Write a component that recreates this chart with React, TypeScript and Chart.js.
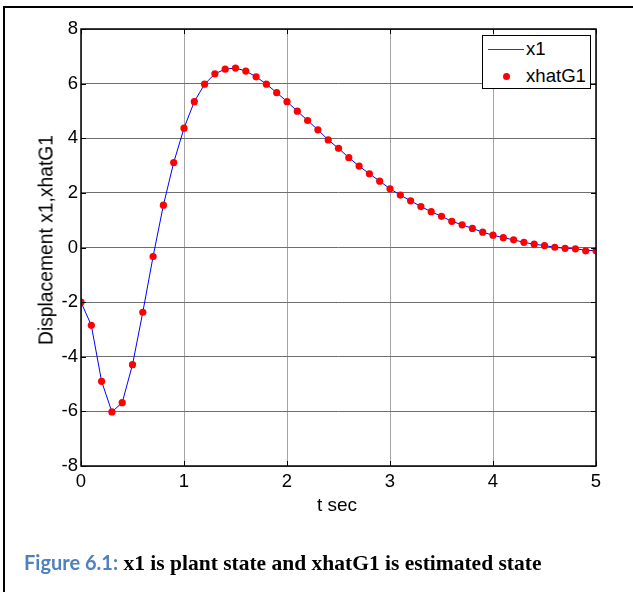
import React, { useEffect, useRef } from 'react';
import { Chart, registerables } from 'chart.js';

Chart.register(...registerables);

const tValues = [
  0, 0.1, 0.2, 0.3, 0.4, 0.5, 0.6, 0.7, 0.8, 0.9,
  1.0, 1.1, 1.2, 1.3, 1.4, 1.5, 1.6, 1.7, 1.8, 1.9,
  2.0, 2.1, 2.2, 2.3, 2.4, 2.5, 2.6, 2.7, 2.8, 2.9,
  3.0, 3.1, 3.2, 3.3, 3.4, 3.5, 3.6, 3.7, 3.8, 3.9,
  4.0, 4.1, 4.2, 4.3, 4.4, 4.5, 4.6, 4.7, 4.8, 4.9,
  5.0,
];

const x1Values = [
  -2.0, -2.85, -4.9, -6.02, -5.68, -4.29, -2.37, -0.33, 1.55, 3.11,
  4.37, 5.34, 5.98, 6.36, 6.53, 6.57, 6.46, 6.25, 5.98, 5.67,
  5.34, 4.99, 4.65, 4.31, 3.94, 3.63, 3.29, 2.98, 2.7, 2.43,
  2.15, 1.92, 1.71, 1.5, 1.31, 1.14, 0.96, 0.83, 0.7, 0.56,
  0.45, 0.36, 0.28, 0.19, 0.12, 0.07, 0.01, -0.03, -0.05, -0.1,
  -0.12,
];

const xhatG1Values = [
  -2.0, -2.85, -4.9, -6.02, -5.68, -4.29, -2.37, -0.33, 1.55, 3.11,
  4.37, 5.34, 5.98, 6.36, 6.53, 6.57, 6.46, 6.25, 5.98, 5.67,
  5.34, 4.99, 4.65, 4.31, 3.94, 3.63, 3.29, 2.98, 2.7, 2.43,
  2.15, 1.92, 1.71, 1.5, 1.31, 1.14, 0.96, 0.83, 0.7, 0.56,
  0.45, 0.36, 0.28, 0.19, 0.12, 0.07, 0.01, -0.03, -0.05, -0.12,
  -0.12,
];

const xTicks = [0, 1, 2, 3, 4, 5];
const yTicks = [-8, -6, -4, -2, 0, 2, 4, 6, 8];

const seriesNames = ['x1', 'xhatG1'];
const xTitle = 't sec';
const yTitle = 'Displacement x1,xhatG1';
const captionLabel = 'Figure 6.1:';
const captionText = ' x1 is plant state and xhatG1 is estimated state';

const FONT = '"Liberation Sans", Arial, Helvetica, sans-serif';

const boxPlugin = {
  id: 'matlabBox',
  afterDraw(chart: any) {
    const { ctx, chartArea, scales } = chart;
    const { left, top, right, bottom } = chartArea;
    const x = scales.x;
    const y = scales.y;
    ctx.save();
    ctx.strokeStyle = '#000';
    ctx.lineWidth = 1;
    const len = 5;
    ctx.beginPath();
    xTicks.forEach((v) => {
      const px = Math.round(x.getPixelForValue(v)) + 0.5;
      ctx.moveTo(px, bottom);
      ctx.lineTo(px, bottom - len);
      ctx.moveTo(px, top);
      ctx.lineTo(px, top + len);
    });
    yTicks.forEach((v) => {
      const py = Math.round(y.getPixelForValue(v)) + 0.5;
      ctx.moveTo(left, py);
      ctx.lineTo(left + len, py);
      ctx.moveTo(right, py);
      ctx.lineTo(right - len, py);
    });
    ctx.stroke();
    ctx.lineWidth = 1.5;
    ctx.strokeRect(left, top, right - left, bottom - top);
    ctx.restore();
  },
};

export default function App() {
  const canvasRef = useRef<HTMLCanvasElement | null>(null);

  useEffect(() => {
    const canvas = canvasRef.current;
    if (!canvas) return;
    const lineData = tValues.map((t, i) => ({ x: t, y: x1Values[i] }));
    const dotData = tValues.map((t, i) => ({ x: t, y: xhatG1Values[i] }));
    const chart = new Chart(canvas, {
      type: 'scatter',
      data: {
        datasets: [
          {
            label: seriesNames[1],
            data: dotData,
            showLine: false,
            pointRadius: 3.6,
            pointBackgroundColor: '#ff0000',
            pointBorderWidth: 0,
            pointBorderColor: '#ff0000',
            order: 0,
          },
          {
            label: seriesNames[0],
            data: lineData,
            showLine: true,
            borderColor: '#0000ff',
            borderWidth: 1,
            pointRadius: 0,
            tension: 0,
            order: 1,
          },
        ],
      },
      options: {
        animation: false,
        responsive: false,
        devicePixelRatio: 1,
        layout: { padding: { left: 0, top: 29, right: 37, bottom: 0 } },
        plugins: {
          legend: { display: false },
          tooltip: { enabled: false },
          title: { display: false },
        },
        scales: {
          x: {
            type: 'linear',
            min: 0,
            max: 5,
            afterBuildTicks: (s: any) => {
              s.ticks = xTicks.map((v) => ({ value: v }));
            },
            afterFit: (s: any) => {
              s.height = 126;
            },
            grid: { color: '#a4a4a4', lineWidth: 1, drawTicks: false },
            border: { display: false },
            ticks: {
              color: '#000',
              padding: 5,
              maxRotation: 0,
              font: { family: FONT, size: 18.5 },
              callback: (v: any) => String(v),
            },
          },
          y: {
            type: 'linear',
            min: -8,
            max: 8,
            afterBuildTicks: (s: any) => {
              s.ticks = yTicks.map((v) => ({ value: v }));
            },
            afterFit: (s: any) => {
              s.width = 81;
            },
            grid: { color: '#6e6e6e', lineWidth: 1, drawTicks: false },
            border: { display: false },
            ticks: {
              color: '#000',
              padding: 3,
              font: { family: FONT, size: 18.5 },
              callback: (v: any) => String(v),
            },
          },
        },
      },
      plugins: [boxPlugin],
    });
    return () => chart.destroy();
  }, []);

  return (
    <div
      style={{
        position: 'fixed',
        left: 0,
        top: 0,
        width: 633,
        height: 592,
        background: '#fff',
        overflow: 'hidden',
        fontFamily: FONT,
        color: '#000',
      }}
    >
      <canvas
        ref={canvasRef}
        width={633}
        height={592}
        style={{ position: 'absolute', left: 0, top: 0, width: 633, height: 592 }}
      />
      <div style={{ position: 'absolute', left: 3, top: 6, right: 0, height: 2, background: '#000' }} />
      <div style={{ position: 'absolute', left: 3, top: 6, width: 2, bottom: 0, background: '#000' }} />
      <div
        style={{
          position: 'absolute',
          left: 46,
          top: 240,
          transform: 'translate(-50%, -50%) rotate(-90deg)',
          whiteSpace: 'nowrap',
          fontSize: 19.3,
          lineHeight: '19px',
        }}
      >
        {yTitle}
      </div>
      <div
        style={{
          position: 'absolute',
          left: 337,
          top: 495,
          transform: 'translateX(-50%)',
          whiteSpace: 'nowrap',
          fontSize: 19,
          lineHeight: '19px',
        }}
      >
        {xTitle}
      </div>
      <div
        style={{
          position: 'absolute',
          left: 482,
          top: 35,
          width: 107,
          height: 52,
          border: '1px solid #000',
          background: '#fff',
          fontSize: 18.6,
        }}
      >
        <div style={{ position: 'absolute', left: 5, top: 13, width: 36, height: 1.3, background: '#2a2aff' }} />
        <div style={{ position: 'absolute', left: 43, top: 4, lineHeight: '18px', whiteSpace: 'nowrap' }}>
          {seriesNames[0]}
        </div>
        <div
          style={{
            position: 'absolute',
            left: 20,
            top: 37,
            width: 7,
            height: 7,
            borderRadius: '50%',
            background: '#ff0000',
          }}
        />
        <div style={{ position: 'absolute', left: 43, top: 31, lineHeight: '18px', whiteSpace: 'nowrap' }}>
          {seriesNames[1]}
        </div>
      </div>
      <div
        style={{
          position: 'absolute',
          left: 24,
          top: 550,
          whiteSpace: 'nowrap',
          lineHeight: '24px',
        }}
      >
        <span style={{ fontFamily: 'Lato, "Open Sans", sans-serif', fontWeight: 700, fontSize: 20, color: '#4f81bd' }}>
          {captionLabel}
        </span>
        <span style={{ fontFamily: '"Liberation Serif", "Times New Roman", serif', fontWeight: 700, fontSize: 21.5 }}>
          {captionText}
        </span>
      </div>
    </div>
  );
}
